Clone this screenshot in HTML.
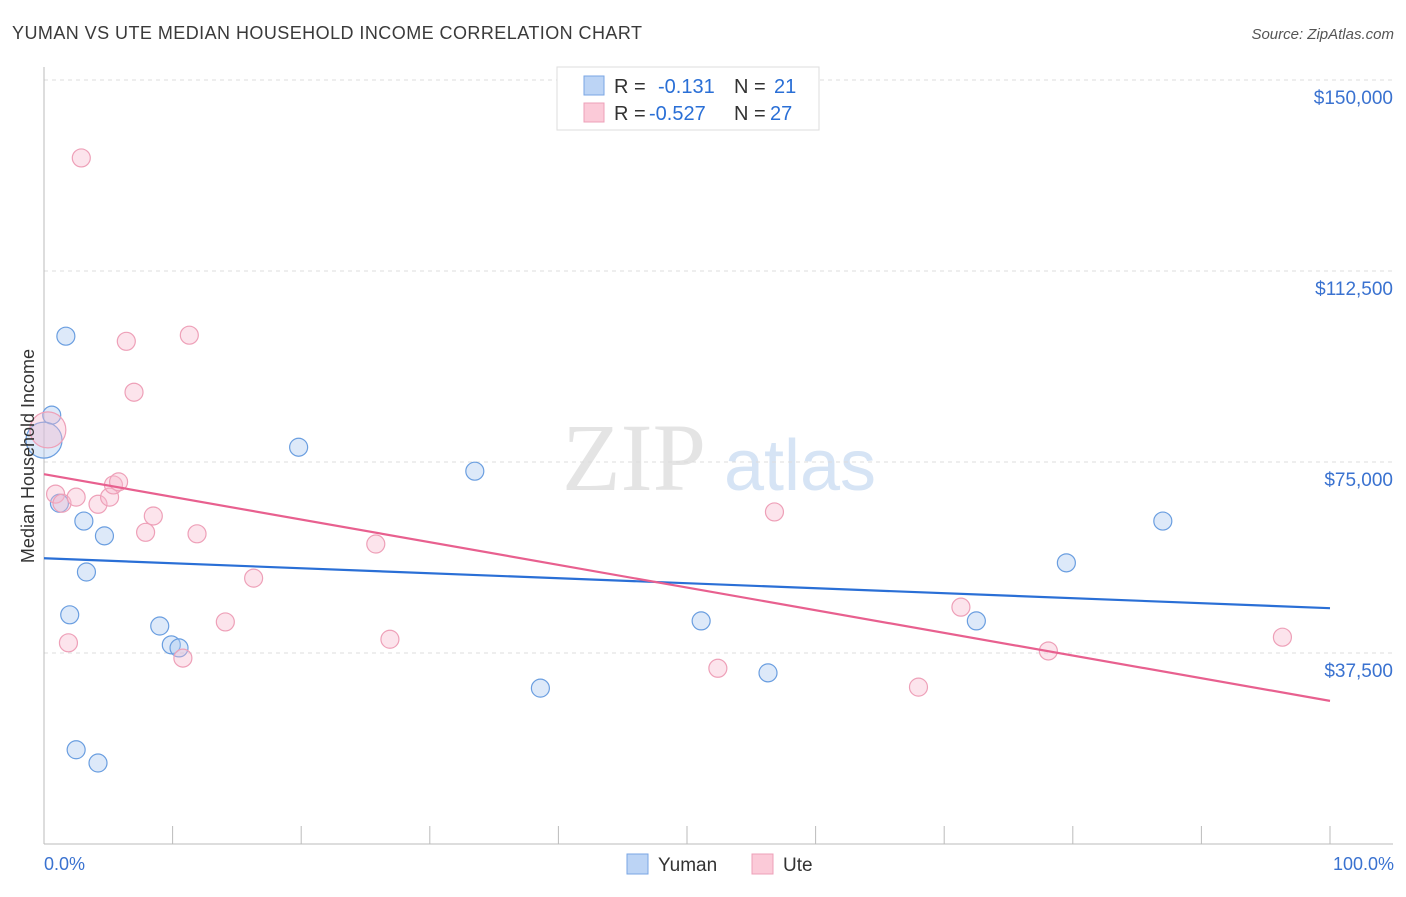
<!DOCTYPE html>
<html><head><meta charset="utf-8"><style>
body{margin:0;background:#fff;font-family:"Liberation Sans",sans-serif;}
</style></head><body>
<svg id="c" width="1406" height="892" xmlns="http://www.w3.org/2000/svg" style="font-family:'Liberation Sans',sans-serif">
<text x="12" y="39" font-size="18" fill="#3a3a3a" textLength="630">YUMAN VS UTE MEDIAN HOUSEHOLD INCOME CORRELATION CHART</text>
<text x="1394" y="39" font-size="15" fill="#555" text-anchor="end" font-style="italic">Source: ZipAtlas.com</text>
<text x="634" y="490" font-size="96" fill="#e4e4e4" font-family="Liberation Serif" text-anchor="middle">ZIP</text>
<text x="800" y="490" font-size="72" fill="#d6e4f5" text-anchor="middle">atlas</text>
<g id="grid"></g><g id="marks"></g>
<text transform="translate(34,456) rotate(-90)" font-size="18" fill="#333" text-anchor="middle">Median Household Income</text>
<text x="44" y="870" font-size="18" fill="#3a72d0">0.0%</text>
<text x="1394" y="870" font-size="18" fill="#3a72d0" text-anchor="end">100.0%</text>
<g font-size="20">
<rect x="557" y="67" width="262" height="63" fill="#fff" stroke="#ddd"/>
<rect x="584" y="76" width="20" height="19" fill="#bcd4f5" stroke="#7aa6e4"/>
<rect x="584" y="103" width="20" height="19" fill="#fbcad8" stroke="#eea0b8"/>
<text x="614" y="93" fill="#333">R =</text>
<text x="658" y="93" fill="#2a6fd6">-0.131</text>
<text x="734" y="93" fill="#333">N =</text>
<text x="774" y="93" fill="#2a6fd6">21</text>
<text x="614" y="120" fill="#333">R =</text>
<text x="649" y="120" fill="#2a6fd6">-0.527</text>
<text x="734" y="120" fill="#333">N =</text>
<text x="770" y="120" fill="#2a6fd6">27</text>
</g>
<g>
<rect x="627" y="854" width="21" height="20" fill="#bcd4f5" stroke="#7aa6e4"/>
<text x="658" y="871" font-size="19" fill="#333">Yuman</text>
<rect x="752" y="854" width="21" height="20" fill="#fbcad8" stroke="#eea0b8"/>
<text x="783" y="871" font-size="19" fill="#333">Ute</text>
</g>
</svg>
<script>
const yTicks=[37500,75000,112500,150000];
const yTickLabels=["$37,500","$75,000","$112,500","$150,000"];
const yumanX=[1.7,0.6,0.0,1.2,3.1,4.7,3.3,2.0,9.0,9.9,10.5,2.5,4.2,19.8,33.5,38.6,51.1,56.3,72.5,79.5,87.0];
const yumanY=[99700,84200,79300,66900,63400,60500,53400,45000,42800,39100,38500,18500,15900,77900,73200,30600,43800,33600,43800,55200,63400];
const yumanBig=[0,0,1,0,0,0,0,0,0,0,0,0,0,0,0,0,0,0,0,0,0];
const uteX=[2.9,6.4,11.3,7.0,0.3,0.9,1.4,2.5,4.2,5.1,5.4,5.8,8.5,7.9,11.9,1.9,10.8,14.1,16.3,25.8,26.9,52.4,56.8,68.0,71.3,78.1,96.3];
const uteY=[134700,98700,99900,88700,81300,68700,66900,68100,66700,68100,70500,71100,64400,61200,60900,39500,36500,43600,52200,58900,40200,34500,65200,30800,46500,37900,40600];
const uteBig=[0,0,0,0,1,0,0,0,0,0,0,0,0,0,0,0,0,0,0,0,0,0,0,0,0,0,0];
const yumanTrend=[56100,46300];
const uteTrend=[72600,28100];
const xs=p=>44+p/100*1286, ys=v=>844-v*191/37500;
const NS="http://www.w3.org/2000/svg";
function mk(t,a,parent){const e=document.createElementNS(NS,t);for(const k in a)e.setAttribute(k,a[k]);parent.appendChild(e);return e;}
const grid=document.getElementById('grid'), marks=document.getElementById('marks');
yTicks.forEach((v,i)=>{
 const l=mk('line',{x1:44,x2:1393,y1:ys(v),y2:ys(v),stroke:'#ddd','stroke-dasharray':'4,4'},grid);
 
 
 const t=mk('text',{x:1393,y:ys(v)+24,'font-size':19,fill:'#3a72d0','text-anchor':'end'},grid);
 t.textContent=yTickLabels[i];
 
 
});
const ax=mk('line',{x1:44,x2:44,y1:67,y2:844,stroke:'#bbb'},grid);


const bx=mk('line',{x1:44,x2:1393,y1:844,y2:844,stroke:'#bbb'},grid);


for(let i=0;i<=10;i++){const t=mk('line',{x1:xs(i*10),x2:xs(i*10),y1:826,y2:844,stroke:'#bbb'},grid);
 
 }
function pts(X,Y,B,fill,stroke,name){X.forEach((x,i)=>{
 const c=mk('circle',{cx:xs(x),cy:ys(Y[i]),r:B[i]?18:9,fill:fill,stroke:stroke,'stroke-width':1.2},marks);
 
 });}
pts(yumanX,yumanY,yumanBig,'rgba(170,200,240,0.4)','#6a9ee0','yuman-point');
pts(uteX,uteY,uteBig,'rgba(248,185,205,0.38)','#eea0b8','ute-point');
const l1=mk('line',{x1:xs(0),x2:xs(100),y1:ys(yumanTrend[0]),y2:ys(yumanTrend[1]),stroke:'#2a6fd6','stroke-width':2.2},marks);


const l2=mk('line',{x1:xs(0),x2:xs(100),y1:ys(uteTrend[0]),y2:ys(uteTrend[1]),stroke:'#e8608f','stroke-width':2.2},marks);


</script>
</body></html>
